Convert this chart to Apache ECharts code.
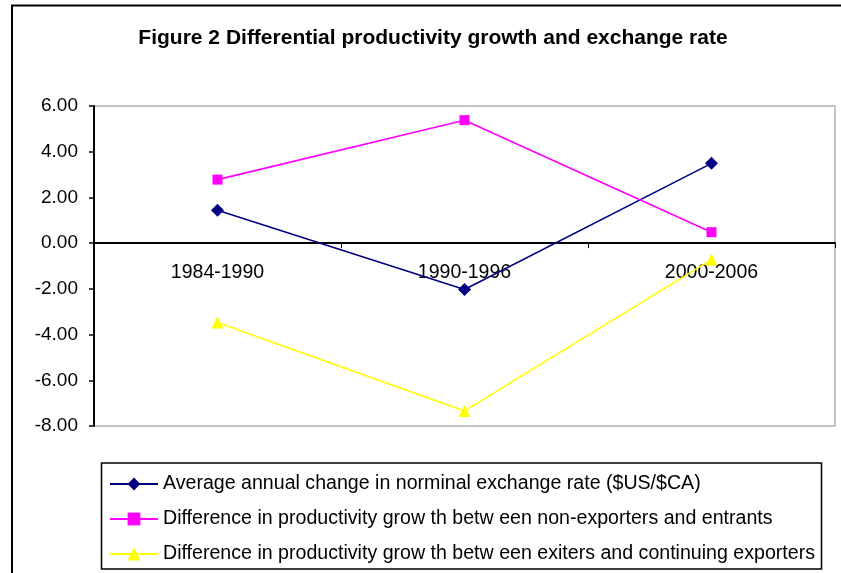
<!DOCTYPE html>
<html>
<head>
<meta charset="utf-8">
<script src="https://cdn.jsdelivr.net/npm/echarts@6/dist/echarts.min.js"></script>
<style>html,body{margin:0;padding:0;background:#fff}#chart{width:841px;height:573px}</style>
</head>
<body>
<div id="chart"></div>
<script>
const titleText = 'Figure 2 Differential productivity growth and exchange rate';
const categories = ['1984-1990', '1990-1996', '2000-2006'];
const seriesNames = [
  'Average annual change in norminal exchange rate ($US/$CA)',
  'Difference in productivity grow th betw een non-exporters and entrants',
  'Difference in productivity grow th betw een exiters and continuing exporters'
];
const exchangeRate = [1.44, -2.03, 3.49];
const nonExportersEntrants = [2.78, 5.38, 0.48];
const exitersContinuing = [-3.47, -7.34, -0.72];
const yMin = -8, yMax = 6, yStep = 2;

const FONT = '"Liberation Sans", Arial, sans-serif';
const chart = echarts.init(document.getElementById('chart'));

function lineSeries(name, data, color, symbol, size) {
  return {
    name: name, type: 'line', data: data,
    symbol: symbol, symbolSize: size,
    lineStyle: { color: color, width: 1.6 },
    itemStyle: { color: color },
    animation: false
  };
}

chart.setOption({
  backgroundColor: '#ffffff',
  animation: false,
  title: {
    text: titleText, left: 428, top: 23, textAlign: 'center',
    textStyle: { fontFamily: FONT, fontSize: 21, fontWeight: 'bold', color: '#000' }
  },
  grid: {
    left: 94, top: 106, right: 6, bottom: 147,
    show: true, borderColor: '#8a8a8a', borderWidth: 1, backgroundColor: 'transparent'
  },
  xAxis: {
    type: 'category', data: categories, boundaryGap: true, offset: 0,
    axisLine: { onZero: false, lineStyle: { color: '#000', width: 2 } },
    axisTick: { show: true, length: 5, inside: false, lineStyle: { color: '#000', width: 1 } },
    axisLabel: { margin: 19, fontFamily: FONT, fontSize: 19.5, color: '#000' },
    splitLine: { show: false }
  },
  yAxis: {
    type: 'value', min: yMin, max: yMax, interval: yStep,
    axisLine: { show: true, lineStyle: { color: '#000', width: 2 } },
    axisTick: { show: true, length: 5, inside: false, lineStyle: { color: '#000', width: 1.5 } },
    axisLabel: { margin: 16, fontFamily: FONT, fontSize: 19, color: '#000', formatter: v => v.toFixed(2) },
    splitLine: { show: false }
  },
  legend: {
    orient: 'vertical', left: 109, top: 474, padding: 0,
    itemWidth: 48, itemHeight: 16, itemGap: 15,
    textStyle: { fontFamily: FONT, fontSize: 19.6, color: '#000', lineHeight: 18 },
    data: seriesNames
  },
  graphic: [
    { type: 'rect', shape: { x: 12, y: 5.5, width: 900, height: 700 },
      style: { fill: 'none', stroke: '#000', lineWidth: 2 }, z: -1 },
    { type: 'rect', shape: { x: 101.5, y: 463, width: 720, height: 106 },
      style: { fill: 'none', stroke: '#000', lineWidth: 1.5 } }
  ],
  series: [
    lineSeries(seriesNames[0], exchangeRate, '#000080', 'diamond', 13),
    lineSeries(seriesNames[1], nonExportersEntrants, '#FF00FF', 'rect', 10),
    lineSeries(seriesNames[2], exitersContinuing, '#FFFF00', 'triangle', 12)
  ]
});

// Move the category axis (line, ticks, labels) up to the value 0 using the y scale.
const zeroY = chart.convertToPixel({ yAxisIndex: 0 }, 0);
const bottomY = chart.convertToPixel({ yAxisIndex: 0 }, yMin);
chart.setOption({ xAxis: { offset: zeroY - bottomY } });
</script>
</body>
</html>
